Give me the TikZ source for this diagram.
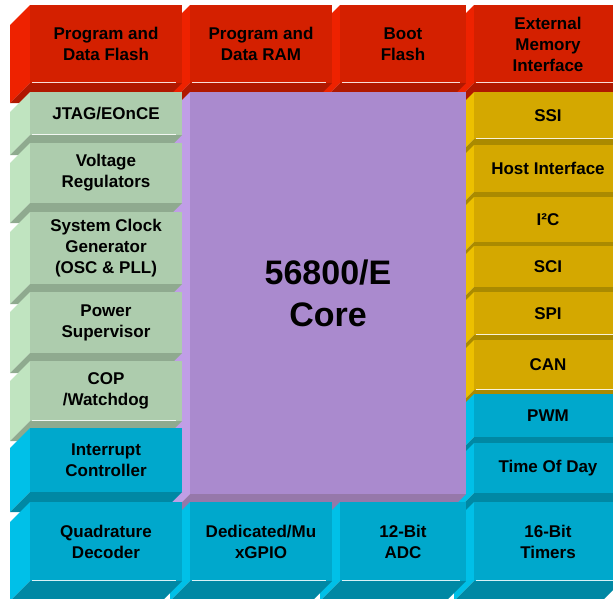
\documentclass[tikz,border=0pt]{standalone}
\usepackage{fontspec}
\setmainfont{Liberation Sans}
\definecolor{redfront}{HTML}{D42000}
\definecolor{redside}{HTML}{EE2200}
\definecolor{redbot}{HTML}{B01800}
\definecolor{grnfront}{HTML}{ADCCAD}
\definecolor{grnside}{HTML}{C0E4C0}
\definecolor{grnbot}{HTML}{8FAA8F}
\definecolor{purfront}{HTML}{AA8ACE}
\definecolor{purside}{HTML}{C09EE6}
\definecolor{purbot}{HTML}{9678AA}
\definecolor{yelfront}{HTML}{D4A800}
\definecolor{yelside}{HTML}{ECC000}
\definecolor{yelbot}{HTML}{AA8A00}
\definecolor{blufront}{HTML}{00A8CC}
\definecolor{bluside}{HTML}{00C0E8}
\definecolor{blubot}{HTML}{0088A4}
\tikzset{
  lbl/.style={align=center, inner sep=0pt, font=\fontsize{17}{21}\selectfont\bfseries, text=black},
  biglbl/.style={align=center, inner sep=0pt, font=\fontsize{34}{42}\selectfont\bfseries, text=black},
  hiline/.style={white, line width=1pt, opacity=0.85}
}
% #1 name, #2 x1, #3 y1, #4 x2, #5 y2, #6 colour prefix, #7 highlight 0/1, #8 text
\newcommand\blk[8]{%
  \fill[#6side] (#2,#3) -- (#2,#5) -- ({#2-20},{#5+20}) -- ({#2-20},{#3+20}) -- cycle;
  \fill[#6bot] (#2,#5) -- (#4,#5) -- ({#4-20},{#5+20}) -- ({#2-20},{#5+20}) -- cycle;
  \fill[#6front] (#2,#3) rectangle (#4,#5);
  \ifnum#7=1 \draw[hiline] ({#2+2},{#5-0.5}) -- ({#4-6},{#5-0.5});\fi
  \node[lbl] (#1) at ({(#2+#4)/2},{(#3+#5)/2}) {#8};
}
\begin{document}
\begin{tikzpicture}[x=1pt,y=-1pt]
\useasboundingbox (0,0) rectangle (613,598);
\clip (0,0) rectangle (613,598);
% top row, right to left
\blk{extmem}{474}{5}{622}{83}{red}{1}{External\\Memory\\Interface}
\blk{boot}{340}{5}{466}{83}{red}{1}{Boot\\Flash}
\blk{ram}{190}{5}{332}{83}{red}{1}{Program and\\Data RAM}
\blk{flash}{30}{5}{182}{83}{red}{1}{Program and\\Data Flash}
% right column
\blk{ssi}{474}{92}{622}{139}{yel}{1}{SSI}
\blk{host}{474}{145}{622}{192}{yel}{0}{Host Interface}
\blk{iic}{474}{197}{622}{242}{yel}{0}{I²C}
\blk{sci}{474}{246}{622}{287}{yel}{0}{SCI}
\blk{spi}{474}{292}{622}{335}{yel}{1}{SPI}
\blk{can}{474}{340}{622}{390}{yel}{1}{CAN}
\blk{pwm}{474}{394}{622}{437}{blu}{0}{PWM}
\blk{tod}{474}{443}{622}{493}{blu}{0}{Time Of Day}
% core
\fill[purside] (190,92) -- (190,494) -- (170,514) -- (170,112) -- cycle;
\fill[purbot] (190,494) -- (466,494) -- (446,514) -- (170,514) -- cycle;
\fill[purfront] (190,92) rectangle (466,494);
\node[biglbl] (core) at (328,293) {56800/E\\Core};
% left column
\blk{jtag}{30}{92}{182}{135}{grn}{1}{JTAG/EOnCE}
\blk{volt}{30}{143}{182}{203}{grn}{0}{Voltage\\Regulators}
\blk{clk}{30}{212}{182}{284}{grn}{0}{System Clock\\Generator\\(OSC \& PLL)}
\blk{pwr}{30}{292}{182}{353}{grn}{0}{Power\\Supervisor}
\blk{cop}{30}{361}{182}{421}{grn}{1}{COP\\/Watchdog}
\blk{irq}{30}{428}{182}{492}{blu}{0}{Interrupt\\Controller}
% bottom row, right to left
\blk{timers}{474}{502}{622}{581}{blu}{1}{16-Bit\\Timers}
\blk{adc}{340}{502}{466}{581}{blu}{1}{12-Bit\\ADC}
\blk{gpio}{190}{502}{332}{581}{blu}{1}{Dedicated/Mu\\xGPIO}
\blk{quad}{30}{502}{182}{581}{blu}{1}{Quadrature\\Decoder}
\end{tikzpicture}
\end{document}
